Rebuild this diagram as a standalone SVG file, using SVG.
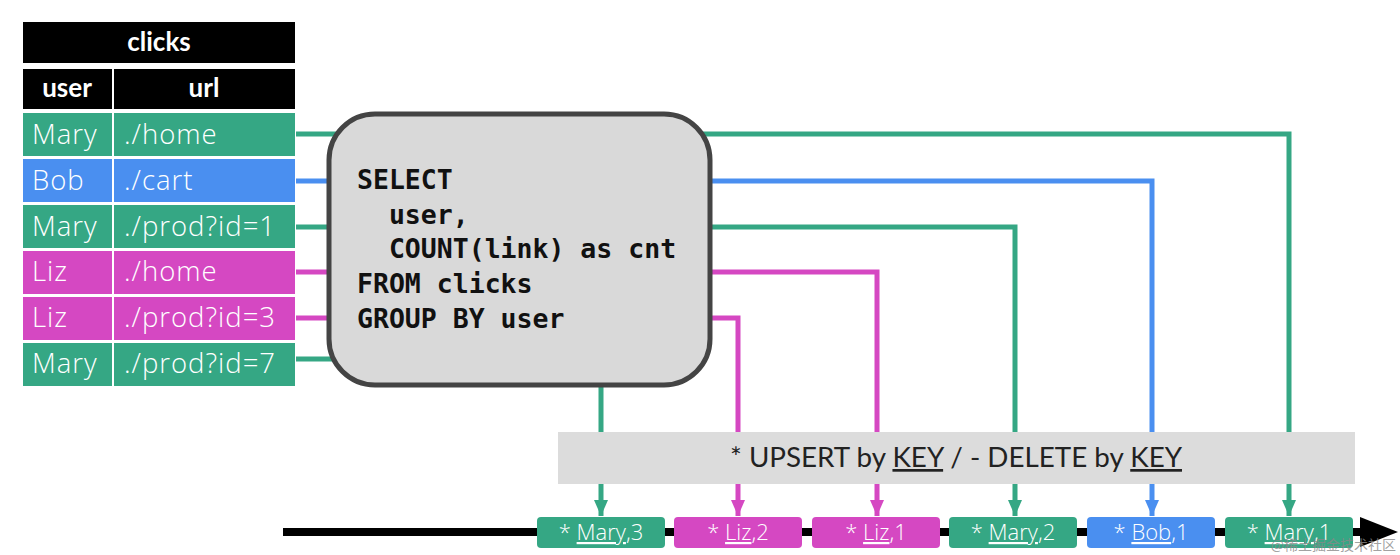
<svg xmlns="http://www.w3.org/2000/svg" width="1400" height="555" viewBox="0 0 1400 555">
<style>
.hdr{fill:#000}
.g{fill:#35a784}
.b{fill:#4a8ff0}
.m{fill:#d548c2}
.ht{font-family:Lato,"Liberation Sans",sans-serif;font-weight:700;font-size:26px;fill:#fff;text-anchor:middle}
.ct{font-family:"Open Sans","Liberation Sans",sans-serif;font-weight:300;font-size:27.5px;letter-spacing:1px;fill:#fff}
.sql{font-family:"DejaVu Sans Mono","Liberation Mono",monospace;font-weight:700;font-size:26.5px;fill:#111}
.lg{stroke:#35a784}
.lb{stroke:#4a8ff0}
.lm{stroke:#d548c2}
.ln{fill:none;stroke-width:5}
.ev{font-family:"Open Sans","Liberation Sans",sans-serif;font-weight:300;font-size:22px;fill:#fff;text-anchor:middle}
.u{text-decoration:underline}
</style>
<defs>
<marker id="ag" viewBox="0 0 16 14" refX="16" refY="7" markerWidth="16" markerHeight="14" markerUnits="userSpaceOnUse" orient="auto"><path d="M0,0 L16,7 L0,14 z" fill="#35a784"/></marker>
<marker id="ab" viewBox="0 0 16 14" refX="16" refY="7" markerWidth="16" markerHeight="14" markerUnits="userSpaceOnUse" orient="auto"><path d="M0,0 L16,7 L0,14 z" fill="#4a8ff0"/></marker>
<marker id="am" viewBox="0 0 16 14" refX="16" refY="7" markerWidth="16" markerHeight="14" markerUnits="userSpaceOnUse" orient="auto"><path d="M0,0 L16,7 L0,14 z" fill="#d548c2"/></marker>
</defs>
<rect width="1400" height="555" fill="#fff"/>

<g id="connectors">
<polyline class="ln lg" points="296,134 1289,134 1289,516" marker-end="url(#ag)"/>
<polyline class="ln lb" points="296,181 1152,181 1152,516" marker-end="url(#ab)"/>
<polyline class="ln lg" points="296,227 1015,227 1015,516" marker-end="url(#ag)"/>
<polyline class="ln lm" points="296,272 877,272 877,516" marker-end="url(#am)"/>
<polyline class="ln lm" points="296,318 738,318 738,516" marker-end="url(#am)"/>
<polyline class="ln lg" points="296,359 601,359 601,516" marker-end="url(#ag)"/>
</g>

<g id="table">
<rect class="hdr" x="23" y="22" width="272" height="41"/>
<text class="ht" x="159" y="51">clicks</text>
<rect class="hdr" x="23" y="69" width="89" height="40"/>
<rect class="hdr" x="114" y="69" width="181" height="40"/>
<text class="ht" x="67" y="97">user</text>
<text class="ht" x="204" y="97">url</text>
<g id="row1"><rect class="g" x="23" y="113" width="89" height="43"/><rect class="g" x="114" y="113" width="181" height="43"/><text class="ct" x="32" y="144">Mary</text><text class="ct" x="124" y="144">./home</text></g>
<g id="row2"><rect class="b" x="23" y="159" width="89" height="43"/><rect class="b" x="114" y="159" width="181" height="43"/><text class="ct" x="32" y="190">Bob</text><text class="ct" x="124" y="190">./cart</text></g>
<g id="row3"><rect class="g" x="23" y="205" width="89" height="43"/><rect class="g" x="114" y="205" width="181" height="43"/><text class="ct" x="32" y="236">Mary</text><text class="ct" x="124" y="236">./prod?id=1</text></g>
<g id="row4"><rect class="m" x="23" y="251" width="89" height="43"/><rect class="m" x="114" y="251" width="181" height="43"/><text class="ct" x="32" y="281">Liz</text><text class="ct" x="124" y="281">./home</text></g>
<g id="row5"><rect class="m" x="23" y="297" width="89" height="43"/><rect class="m" x="114" y="297" width="181" height="43"/><text class="ct" x="32" y="327">Liz</text><text class="ct" x="124" y="327">./prod?id=3</text></g>
<g id="row6"><rect class="g" x="23" y="343" width="89" height="43"/><rect class="g" x="114" y="343" width="181" height="43"/><text class="ct" x="32" y="373">Mary</text><text class="ct" x="124" y="373">./prod?id=7</text></g>
</g>

<g id="query">
<rect x="329" y="114" width="381" height="271" rx="46" ry="46" fill="#d9d9d9" stroke="#444" stroke-width="5"/>
<text class="sql" x="357" y="189" xml:space="preserve">SELECT</text>
<text class="sql" x="357" y="224" xml:space="preserve">  user,</text>
<text class="sql" x="357" y="258" xml:space="preserve">  COUNT(link) as cnt</text>
<text class="sql" x="357" y="293" xml:space="preserve">FROM clicks</text>
<text class="sql" x="357" y="328" xml:space="preserve">GROUP BY user</text>
</g>

<g id="banner">
<rect x="558" y="432" width="797" height="52" fill="#dcdcdc"/>
<text x="956" y="467" font-family="Lato,'Liberation Sans',sans-serif" font-size="27" fill="#222" text-anchor="middle" textLength="452" lengthAdjust="spacingAndGlyphs">* UPSERT by <tspan class="u">KEY</tspan> / - DELETE by <tspan class="u">KEY</tspan></text>
</g>

<g id="timeline">
<line x1="283" y1="532" x2="1365" y2="532" stroke="#000" stroke-width="8"/>
<polygon points="1360,517 1398,532 1360,547" fill="#000"/>
</g>

<g id="ev1"><rect class="g" x="537" y="517" width="128" height="31" rx="4"/><text class="ev" x="601" y="540">* <tspan class="u">Mary</tspan>,3</text></g>
<g id="ev2"><rect class="m" x="674" y="517" width="128" height="31" rx="4"/><text class="ev" x="738" y="540">* <tspan class="u">Liz</tspan>,2</text></g>
<g id="ev3"><rect class="m" x="812" y="517" width="128" height="31" rx="4"/><text class="ev" x="876" y="540">* <tspan class="u">Liz</tspan>,1</text></g>
<g id="ev4"><rect class="g" x="949" y="517" width="128" height="31" rx="4"/><text class="ev" x="1013" y="540">* <tspan class="u">Mary</tspan>,2</text></g>
<g id="ev5"><rect class="b" x="1087" y="517" width="128" height="31" rx="4"/><text class="ev" x="1151" y="540">* <tspan class="u">Bob</tspan>,1</text></g>
<g id="ev6"><rect class="g" x="1225" y="517" width="128" height="31" rx="4"/><text class="ev" x="1289" y="540">* <tspan class="u">Mary</tspan>,1</text></g>

<text x="1396" y="550" font-family="'Noto Sans CJK SC',sans-serif" font-size="14" fill="#888" fill-opacity="0.8" text-anchor="end">@稀土掘金技术社区</text>
</svg>
